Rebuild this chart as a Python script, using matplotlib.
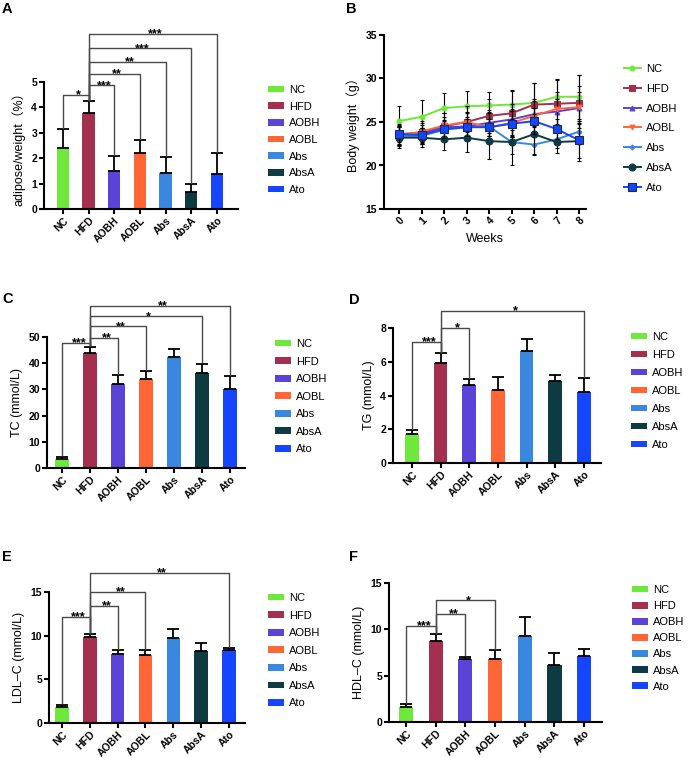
import matplotlib
matplotlib.use("Agg")
import matplotlib.pyplot as plt

plt.rcParams['font.family'] = ['Liberation Sans', 'Noto Sans CJK SC', 'DejaVu Sans']

groups = ['NC', 'HFD', 'AOBH', 'AOBL', 'Abs', 'AbsA', 'Ato']
colors = ['#6ee83a', '#a3304e', '#5a43d6', '#ff6535', '#3a87e0', '#0e3a42', '#1545ff']

# A: adipose/weight (%)
adipose = [2.40, 3.78, 1.50, 2.22, 1.40, 0.65, 1.38]
adipose_sd = [0.75, 0.47, 0.58, 0.50, 0.65, 0.32, 0.82]
adipose_sig = [(0, 1, '*', 4.5), (1, 2, '***', 4.87), (1, 3, '**', 5.33),
               (1, 4, '**', 5.78), (1, 5, '***', 6.33), (1, 6, '***', 6.89)]

# B: body weight by week
weeks = [0, 1, 2, 3, 4, 5, 6, 7, 8]
bw = {
    'NC':   [25.1, 25.6, 26.6, 26.8, 26.9, 27.0, 27.2, 27.9, 27.9],
    'HFD':  [23.6, 23.8, 24.5, 25.0, 25.7, 26.0, 27.0, 27.1, 27.2],
    'AOBH': [23.5, 23.6, 24.4, 24.5, 24.9, 25.3, 25.9, 26.2, 26.6],
    'AOBL': [23.4, 23.9, 24.6, 25.0, 24.4, 24.9, 25.7, 26.5, 26.7],
    'Abs':  [23.4, 23.4, 24.1, 24.4, 24.5, 22.7, 22.4, 23.0, 23.9],
    'AbsA': [23.2, 23.2, 23.0, 23.2, 22.8, 22.7, 23.6, 22.7, 22.8],
    'Ato':  [23.6, 23.5, 24.2, 24.4, 24.4, 24.8, 25.1, 24.2, 22.9],
}
bw_sd = {
    'NC':   [1.7, 1.9, 1.7, 1.8, 1.6, 1.7, 2.3, 2.0, 2.5],
    'HFD':  [1.2, 1.3, 1.5, 1.8, 2.0, 2.6, 2.5, 2.7, 3.2],
    'AOBH': [1.0, 1.0, 1.2, 1.5, 1.5, 1.8, 1.5, 1.4, 1.8],
    'AOBL': [1.2, 1.0, 1.4, 1.2, 1.7, 1.6, 2.0, 2.0, 2.4],
    'Abs':  [1.0, 0.9, 1.0, 1.2, 1.5, 1.4, 1.2, 1.0, 1.2],
    'AbsA': [1.2, 1.1, 1.2, 1.7, 2.1, 2.6, 2.3, 1.3, 2.3],
    'Ato':  [0.9, 0.8, 1.0, 1.0, 1.0, 1.5, 1.5, 1.2, 2.0],
}
bw_markers = ['o', 's', '^', 'v', 'D', 'o', 's']
bw_msize = [3.5, 4, 3.5, 3.5, 2.5, 5, 6]

# C: TC
tc = [3.5, 44.0, 32.0, 34.0, 42.3, 36.3, 30.3]
tc_sd = [0.8, 2.3, 3.5, 3.0, 3.2, 3.5, 4.7]
tc_sig = [(0, 1, '***', 47.7), (1, 2, '**', 49.6), (1, 3, '**', 54.1),
          (1, 5, '*', 57.9), (1, 6, '**', 61.8)]

# D: TG
tg = [1.70, 5.90, 4.60, 4.35, 6.62, 4.85, 4.20]
tg_sd = [0.25, 0.60, 0.35, 0.75, 0.70, 0.37, 0.83]
tg_sig = [(0, 1, '***', 7.19), (1, 2, '*', 8.0), (1, 6, '*', 9.0)]

# E: LDL-C
ldl = [1.8, 9.8, 7.85, 7.75, 9.7, 8.2, 8.35]
ldl_sd = [0.3, 0.4, 0.5, 0.6, 1.1, 0.95, 0.25]
ldl_sig = [(0, 1, '***', 12.16), (1, 2, '**', 13.4), (1, 3, '**', 15.04),
           (1, 6, '**', 17.2)]

# F: HDL-C
hdl = [1.6, 8.75, 6.8, 6.8, 9.3, 6.15, 7.15]
hdl_sd = [0.35, 0.7, 0.25, 0.95, 2.0, 1.35, 0.75]
hdl_sig = [(0, 1, '***', 10.35), (1, 2, '**', 11.67), (1, 3, '*', 13.14)]

W, H = 688, 758
fig = plt.figure(figsize=(W / 100, H / 100), dpi=100)


def rect(x0, y0, x1, y1):
    # pixel box (left, top, right, bottom) -> figure fraction
    return [x0 / W, 1 - y1 / H, (x1 - x0) / W, (y1 - y0) / H]


def style(ax):
    for s in ['top', 'right']:
        ax.spines[s].set_visible(False)
    for s in ['left', 'bottom']:
        ax.spines[s].set_linewidth(1.5)
    ax.tick_params(width=1.5, length=3.5, labelsize=7.5)
    ax.tick_params(axis='x', pad=1)
    ax.tick_params(axis='y', pad=1.5)
    for lab in ax.get_yticklabels() + ax.get_xticklabels():
        lab.set_fontweight('bold')


def bar_panel(box, vals, sds, sig, ymax, step, xlim, ylabel, letter, letter_xy, leg_xy, spacing):
    ax = fig.add_axes(rect(*box))
    x = range(len(groups))
    ax.bar(x, vals, width=0.48, color=colors, zorder=2)
    ax.errorbar(x, vals, yerr=[[0] * len(sds), sds], fmt='none', ecolor='black',
                elinewidth=1.3, capsize=4, capthick=1.3, zorder=3)
    ax.set_ylim(0, ymax)
    ax.set_xlim(*xlim)
    ax.set_yticks([i * step for i in range(int(round(ymax / step)) + 1)])
    ax.set_xticks(list(x))
    ax.set_xticklabels(groups, rotation=45, ha='right', rotation_mode='anchor')
    ax.set_ylabel(ylabel, fontsize=9, labelpad=4)
    style(ax)
    tops = [v + s for v, s in zip(vals, sds)]
    for i, j, lab, h in sig:
        ax.plot([i, i, j, j], [tops[i] + 0.01 * ymax, h, h, tops[j] + 0.01 * ymax],
                color='#4a4a4a', lw=1, clip_on=False, zorder=4)
        ax.annotate(lab, xy=((i + j) / 2 + 0.1, h), xytext=(0, -2.5),
                    textcoords='offset points', ha='center', va='baseline',
                    fontsize=9, fontweight='bold', annotation_clip=False)
    fig.text(letter_xy[0] / W, 1 - letter_xy[1] / H, letter, fontsize=10.5,
             fontweight='bold', ha='left', va='center')
    fig.legend(ax.patches, groups, loc='upper left',
               bbox_to_anchor=(leg_xy[0] / W, 1 - leg_xy[1] / H),
               frameon=False, fontsize=8, borderpad=0, borderaxespad=0,
               handlelength=1.4, handleheight=0.55, handletextpad=0.5,
               labelspacing=spacing)
    return ax


bar_panel((44, 82, 238, 209), adipose, adipose_sd, adipose_sig, 5, 1, (-0.74, 6.82),
          'adipose/weight（%）', 'A', (2, 9), (268, 85), 0.6)
bar_panel((47, 337, 245, 468), tc, tc_sd, tc_sig, 50, 10, (-0.54, 6.54),
          'TC (mmol/L)', 'C', (2, 299), (275, 339), 0.68)
bar_panel((393, 328, 601, 463), tg, tg_sd, tg_sig, 8, 2, (-0.66, 6.6),
          'TG (mmol/L)', 'D', (349, 300), (631, 332), 0.72)
bar_panel((49, 592, 245, 723), ldl, ldl_sd, ldl_sig, 15, 5, (-0.47, 6.58),
          'LDL–C (mmol/L)', 'E', (2, 557), (268, 593), 0.68)
bar_panel((389, 583, 602, 722), hdl, hdl_sd, hdl_sig, 15, 5, (-0.57, 6.6),
          'HDL–C (mmol/L)', 'F', (349, 557), (632, 585), 0.55)

# B: body weight lines
axb = fig.add_axes(rect(384, 35, 586, 209))
lines = []
for k, g in enumerate(groups):
    mec = '#1a2a50' if g == 'Ato' else colors[k]
    eb = axb.errorbar(weeks, bw[g], yerr=bw_sd[g], color=colors[k], lw=1.4,
                      marker=bw_markers[k], ms=bw_msize[k], mec=mec, mew=0.8,
                      ecolor='black', elinewidth=0.8, capsize=1.5, capthick=0.8,
                      zorder=3 + k)
    lines.append(eb.lines[0])
axb.set_ylim(15, 35)
axb.set_xlim(-0.67, 8.31)
axb.set_yticks([15, 20, 25, 30, 35])
axb.set_xticks(weeks)
axb.set_xticklabels([str(w) for w in weeks], rotation=45, ha='right', rotation_mode='anchor')
axb.set_xlabel('Weeks', fontsize=9, labelpad=5)
axb.set_ylabel('Body weight（g）', fontsize=9, labelpad=4)
style(axb)
fig.text(346 / W, 1 - 9 / H, 'B', fontsize=10.5, fontweight='bold', ha='left', va='center')
fig.legend(lines, groups, loc='upper left', bbox_to_anchor=(624 / W, 1 - 64 / H),
           frameon=False, fontsize=8, borderpad=0, borderaxespad=0,
           handlelength=1.5, handletextpad=0.5, labelspacing=0.88)

fig.savefig('out.png', dpi=100)
